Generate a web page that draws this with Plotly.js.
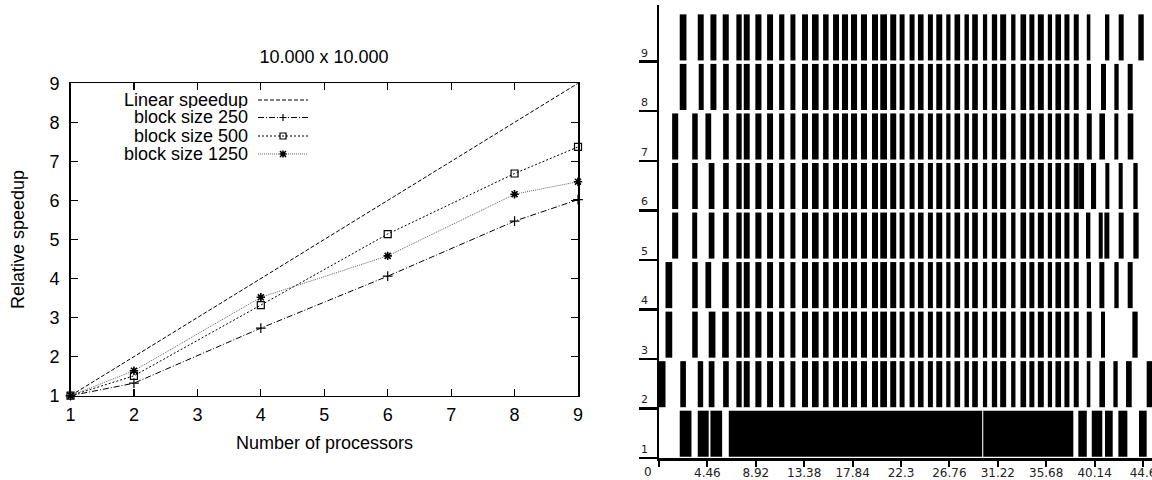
<!DOCTYPE html>
<html><head><meta charset="utf-8">
<script src="https://cdn.plot.ly/plotly-3.0.1.min.js"></script>
<style>html,body{margin:0;padding:0;background:#fff}</style>
</head><body><div id="chart" style="width:1152px;height:480px"></div>
<script>
// ---------- Left chart data ----------
const chartTitle = '10.000 x 10.000';
const processors = [1, 2, 4, 6, 8, 9];
const linearSpeedup = [1, 2, 4, 6, 8, 9];
const speedup250 = [1, 1.32, 2.73, 4.06, 5.47, 6.02];
const speedup500 = [1, 1.51, 3.32, 5.14, 6.69, 7.37];
const speedup1250 = [1, 1.64, 3.52, 4.58, 6.16, 6.48];
const seriesNames = ['Linear speedup', 'block size 250', 'block size 500', 'block size 1250'];
const xTicks = [1, 2, 3, 4, 5, 6, 7, 8, 9];
const yTicks = [1, 2, 3, 4, 5, 6, 7, 8, 9];

// ---------- Right chart data (busy intervals per processor: [start, end]) ----------
const timeTicks = [0, 4.46, 8.92, 13.38, 17.84, 22.3, 26.76, 31.22, 35.68, 40.14, 44.6];
const timeTickText = ['0', '4.46', '8.92', '13.38', '17.84', '22.3', '26.76', '31.22', '35.68', '40.14', '44.6'];
const processorLabels = ['1', '2', '3', '4', '5', '6', '7', '8', '9'];
const midBlocks = [[7.13,7.62],[7.81,8.36],[8.88,9.44],[9.96,10.51],[11.07,11.55],[12.11,12.57],[13.18,13.73],[14.10,14.71],[15.12,15.63],[16.04,16.59],[16.86,17.42],[17.69,18.25],[18.61,19.17],[19.63,20.18],[20.39,21.01],[21.31,21.86],[22.17,22.63],[23.09,23.55],[23.86,24.38],[24.78,25.24],[25.55,26.10],[26.47,26.86],[27.23,27.75],[28.15,28.56],[28.86,29.38],[29.85,30.24],[30.67,31.16],[31.44,31.99],[32.45,32.85],[33.31,33.83],[34.13,34.59],[34.91,35.46],[35.83,36.22],[36.53,37.05],[37.36,37.82],[38.22,38.68]];
const p1 = [[1.91,2.99],[3.57,4.58],[4.74,5.82],[6.43,29.78],[29.88,38.18],[38.64,39.42],[39.88,40.85],[41.10,41.81],[42.33,43.16],[44.23,44.94]];
const p2 = [[0,0.60],[1.96,2.48],[3.57,4.07],[4.58,5.11],[5.91,6.43]].concat(midBlocks, [[39.42,39.75],[40.58,41.10],[41.87,42.27],[43.04,43.56],[44.94,45.43]]);
const p3 = [[0.60,1.22],[3.06,3.57],[4.58,5.20],[5.82,6.43]].concat(midBlocks, [[39.42,39.88],[40.73,41.10],[43.62,44.11]]);
const p4 = [[0.60,1.22],[3.06,3.57],[4.28,4.81],[5.82,6.43]].concat(midBlocks, [[39.42,39.81],[40.58,41.04],[41.96,42.36],[43.19,43.65]]);
const p5 = [[1.21,1.77],[3.06,3.52],[4.58,5.11],[5.91,6.43]].concat(midBlocks, [[39.35,39.75],[40.52,40.89],[41.04,41.50],[42.36,42.82],[43.71,44.20]]);
const p6 = [[1.21,1.77],[3.06,3.57],[4.58,5.11],[5.91,6.43]].concat(midBlocks, [[38.71,39.17],[39.81,40.28],[41.13,41.50],[42.36,42.73],[43.71,44.11]]);
const p7 = [[1.21,1.77],[3.06,3.57],[4.28,4.81],[5.91,6.43]].concat(midBlocks, [[39.42,39.88],[40.58,41.10],[41.96,42.33],[43.19,43.71]]);
const p8 = [[1.91,2.53],[3.66,4.12],[4.74,5.29],[5.91,6.43]].concat(midBlocks, [[39.42,39.81],[40.73,41.19],[41.96,42.36],[43.19,43.65]]);
const p9 = [[1.91,2.53],[3.57,4.12],[4.74,5.29],[5.87,6.43]].concat(midBlocks, [[39.42,39.75],[41.10,41.50],[42.36,42.82],[44.17,44.67]]);
const processorBlocks = [p1, p2, p3, p4, p5, p6, p7, p8, p9];

// ---------- Layout helpers ----------
const W = 1152, H = 480;
const px = v => v / W;
const py = v => 1 - v / H;
const LFONT = 'Liberation Sans, Arial, sans-serif';
const RFONT = 'DejaVu Sans, sans-serif';

const lineStyles = [
  {color: '#000', width: 1, dash: '4px,2px'},
  {color: '#000', width: 1, dash: '6px,2px,1px,2px'},
  {color: '#000', width: 1, dash: '2px,2px'},
  {color: '#666', width: 1, dash: '1px,1px'}
];
const markerStyles = [
  null,
  {symbol: 'cross-thin-open', size: 7, color: '#000', line: {color: '#000', width: 1.2}},
  {symbol: 'square-open', size: 7, color: '#000', line: {color: '#000', width: 1.2}},
  {symbol: 'asterisk-open', size: 7, color: '#000', line: {color: '#000', width: 1.6}}
];
const seriesY = [linearSpeedup, speedup250, speedup500, speedup1250];

const traces = [];
seriesY.forEach((ys, i) => {
  const t = {
    type: 'scatter', x: processors, y: ys, name: seriesNames[i],
    xaxis: 'x', yaxis: 'y', mode: i === 0 ? 'lines' : 'lines+markers',
    line: lineStyles[i], showlegend: false, cliponaxis: false, hoverinfo: 'x+y+name'
  };
  if (markerStyles[i]) t.marker = markerStyles[i];
  traces.push(t);
});

processorBlocks.forEach((blocks, r) => {
  traces.push({
    type: 'bar', orientation: 'h', xaxis: 'x2', yaxis: 'y2',
    base: blocks.map(b => b[0]),
    x: blocks.map(b => b[1] - b[0]),
    y: blocks.map(() => r + 1 - 0.51),
    width: 0.93,
    marker: {color: '#000', line: {width: 0}},
    showlegend: false, name: 'Processor ' + processorLabels[r]
  });
});

// Legend (gnuplot style: text right-aligned, sample to the right)
const legendY = [100, 117.5, 136, 154];
const shapes = [];
const annotations = [];
seriesNames.forEach((nm, i) => {
  annotations.push({xref: 'paper', yref: 'paper', x: px(249), y: py(legendY[i]), xanchor: 'right', yanchor: 'middle',
    height: 16, borderpad: 0, text: nm, showarrow: false, font: {family: LFONT, size: 18, color: '#000'}});
  shapes.push({type: 'line', xref: 'paper', yref: 'paper', x0: px(258), x1: px(308), y0: py(legendY[i]), y1: py(legendY[i]),
    line: lineStyles[i]});
});
function pathPx(segs) {
  return segs.map(s => 'M' + px(s[0]) + ',' + py(s[1]) + 'L' + px(s[2]) + ',' + py(s[3])).join('');
}
const mx = 283;
shapes.push({type: 'path', xref: 'paper', yref: 'paper', line: {color: '#000', width: 1.2},
  path: pathPx([[mx-3.5, legendY[1], mx+3.5, legendY[1]], [mx, legendY[1]-3.5, mx, legendY[1]+3.5]])});
shapes.push({type: 'rect', xref: 'paper', yref: 'paper', line: {color: '#000', width: 1.2},
  x0: px(mx-3), x1: px(mx+3), y0: py(legendY[2]-3), y1: py(legendY[2]+3)});
shapes.push({type: 'path', xref: 'paper', yref: 'paper', line: {color: '#000', width: 1.6},
  path: pathPx([[mx-3.5, legendY[3], mx+3.5, legendY[3]], [mx, legendY[3]-3.5, mx, legendY[3]+3.5],
                [mx-3, legendY[3]-3, mx+3, legendY[3]+3], [mx-3, legendY[3]+3, mx+3, legendY[3]-3]])});

// Axis titles for left chart
annotations.push({xref: 'paper', yref: 'paper', x: px(324), y: py(443), xanchor: 'center', yanchor: 'middle',
  text: 'Number of processors', showarrow: false, font: {family: LFONT, size: 18, color: '#000'}});
annotations.push({xref: 'paper', yref: 'paper', x: px(18), y: py(240), xanchor: 'center', yanchor: 'middle', textangle: -90,
  text: 'Relative speedup', showarrow: false, font: {family: LFONT, size: 18, color: '#000'}});

// Row labels for right chart
processorLabels.forEach((lab, r) => {
  annotations.push({xref: 'paper', yref: 'y2', x: px(639), y: r, xanchor: 'left', yanchor: 'bottom', yshift: 0,
    text: lab, showarrow: false, font: {family: RFONT, size: 11, color: '#222'}});
});
annotations.push({xref: 'paper', yref: 'paper', x: px(648), y: py(472), xanchor: 'center', yanchor: 'middle',
  height: 14, borderpad: 0, text: timeTickText[0], showarrow: false, font: {family: RFONT, size: 12, color: '#222'}});

const layout = {
  width: W, height: H,
  margin: {l: 0, r: 0, t: 0, b: 0},
  paper_bgcolor: '#fff', plot_bgcolor: 'rgba(0,0,0,0)',
  barmode: 'overlay',
  title: {text: chartTitle, x: px(324), xanchor: 'center', xref: 'paper', y: py(57), yanchor: 'middle', yref: 'paper',
    font: {family: LFONT, size: 18, color: '#000'}},
  xaxis: {domain: [px(70.5), px(578)], range: [1, 9], tickvals: xTicks, ticks: 'inside', ticklen: 7, tickwidth: 1.2,
    tickcolor: '#000', showline: true, linecolor: '#000', linewidth: 1.5, mirror: 'ticks', showgrid: false, zeroline: false,
    tickfont: {family: LFONT, size: 18, color: '#000'}, ticklabelstandoff: 2, anchor: 'y', fixedrange: true},
  yaxis: {domain: [py(395.7), py(83.3)], range: [1, 9], tickvals: yTicks, ticks: 'inside', ticklen: 7, tickwidth: 1.2,
    tickcolor: '#000', showline: true, linecolor: '#000', linewidth: 1.5, mirror: 'ticks', showgrid: false, zeroline: false,
    tickfont: {family: LFONT, size: 18, color: '#000'}, ticklabelstandoff: 6, anchor: 'x', fixedrange: true},
  xaxis2: {domain: [px(659), 1], range: [0, 45.43], tickvals: timeTicks, ticktext: [''].concat(timeTickText.slice(1)),
    ticks: 'outside', ticklen: 6, tickwidth: 2, tickcolor: '#000', showline: true, linecolor: '#000', linewidth: 2.5,
    showgrid: false, zeroline: false, tickfont: {family: RFONT, size: 12, color: '#222'}, ticklabelstandoff: -4,
    ticklabeloverflow: 'allow', anchor: 'y2', fixedrange: true},
  yaxis2: {domain: [py(458), py(5)], range: [0, 9.144], tickvals: [0, 1, 2, 3, 4, 5, 6, 7, 8], showticklabels: false,
    ticks: 'outside', ticklen: 18, tickwidth: 2.5, tickcolor: '#000', showline: true, linecolor: '#000', linewidth: 2.5,
    showgrid: false, zeroline: false, anchor: 'x2', fixedrange: true},
  shapes: shapes,
  annotations: annotations,
  showlegend: false
};

Plotly.newPlot('chart', traces, layout, {displayModeBar: false, staticPlot: true});
</script></body></html>
